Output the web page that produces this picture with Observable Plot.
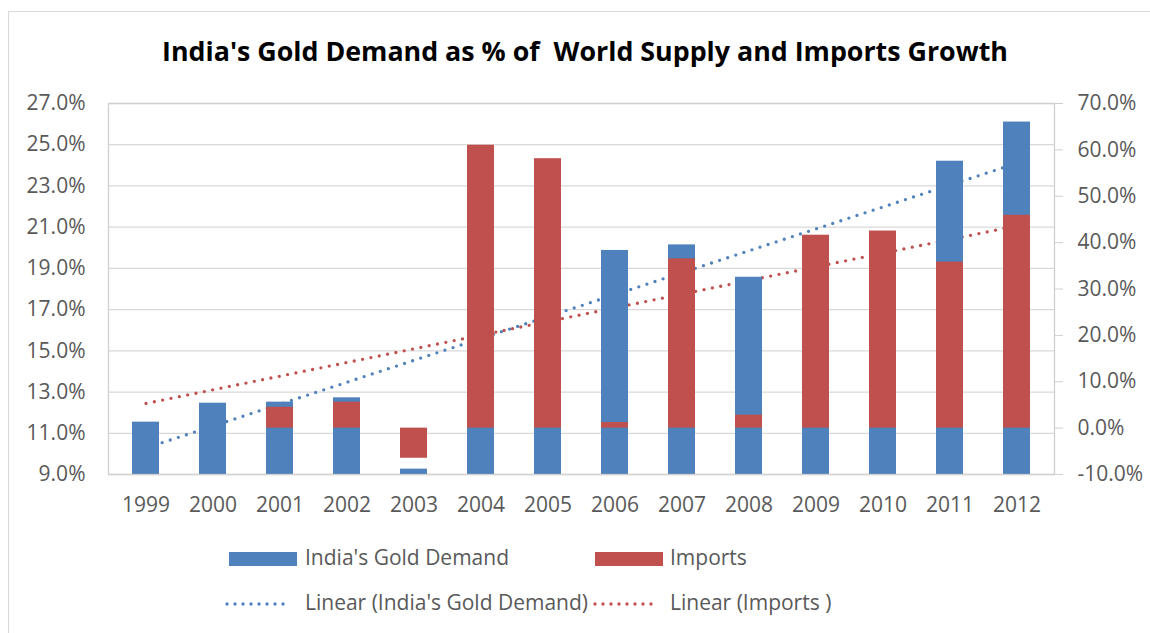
<!DOCTYPE html>
<html>
<head>
<meta charset="utf-8">
<script src="https://cdn.jsdelivr.net/npm/d3@7"></script>
<script src="https://cdn.jsdelivr.net/npm/@observablehq/plot@0.6"></script>
<style>
  html, body { margin: 0; padding: 0; background: #fff; }
  body { width: 1150px; height: 633px; position: relative; overflow: hidden; font-family: "Open Sans", sans-serif; }
  #frame { position: absolute; left: 8px; top: 11px; width: 1200px; height: 700px; border: 1px solid #d9d9d9; box-sizing: border-box; }
  #title { position: absolute; left: 0; width: 1170px; top: 38px; text-align: center; font-size: 26.8px; line-height: 26.8px; font-weight: 700; color: #000; white-space: pre; }
  #chart { position: absolute; left: 0; top: 80px; }
  .lg { position: absolute; font-size: 21px; line-height: 21px; color: #595959; white-space: pre; }
  .sw { position: absolute; }
</style>
</head>
<body>
<div id="frame"></div>
<div id="title"></div>
<div id="chart"></div>
<div id="legend"></div>
<script>
// ---- data ----
const years = ["1999","2000","2001","2002","2003","2004","2005","2006","2007","2008","2009","2010","2011","2012"];
const demand = [11.54, 12.46, 12.51, 12.72, 9.26, 16.9, 18.2, 19.87, 20.14, 18.57, 17.9, 20.4, 24.2, 26.1]; // % of world supply (left axis)
const imports = [null, null, 4.5, 5.6, -6.5, 61.0, 58.1, 1.2, 36.5, 2.8, 41.6, 42.5, 35.8, 45.9];      // growth % (right axis)
const leftTicks = [9, 11, 13, 15, 17, 19, 21, 23, 25, 27];
const rightTicks = [-10, 0, 10, 20, 30, 40, 50, 60, 70];
const titleText = "India's Gold Demand as % of  World Supply and Imports Growth";
const seriesNames = ["India's Gold Demand", "Imports"];
const trendNames = ["Linear (India's Gold Demand)", "Linear (Imports )"];
const colors = ["#4F81BD", "#C0504D"];

// ---- dual axis mapping ----
const L0 = 9, L1 = 27, R0 = -10, R1 = 70;
const toLeft = r => L0 + (r - R0) * (L1 - L0) / (R1 - R0);
const toRight = l => R0 + (l - L0) * (R1 - R0) / (L1 - L0);

const rows = years.map((y, i) => ({year: y, demand: demand[i], imports: imports[i]}));

function fit(vals) {
  const pts = vals.map((v, i) => [i + 1, v]).filter(p => p[1] != null);
  const mx = d3.mean(pts, p => p[0]), my = d3.mean(pts, p => p[1]);
  const b = d3.sum(pts, p => (p[0] - mx) * (p[1] - my)) / d3.sum(pts, p => (p[0] - mx) ** 2);
  const a = my - b * mx;
  return years.map((y, i) => ({year: y, v: a + b * (i + 1)}));
}
const trendDemand = fit(demand);
const trendImports = fit(imports).map(d => ({year: d.year, v: toLeft(d.v)}));

document.getElementById("title").textContent = titleText;

const dots = {strokeWidth: 3.3, strokeDasharray: "0 8.5", strokeLinecap: "round"};

const chart = Plot.plot({
  width: 1150,
  height: 450,
  marginLeft: 108,
  marginRight: 96,
  marginTop: 23,
  marginBottom: 56,
  style: {fontFamily: "'Open Sans', sans-serif", fontSize: "21px", color: "#595959", background: "transparent", overflow: "visible"},
  x: {domain: years, paddingInner: 0.6, paddingOuter: 0.3, axis: null, label: null},
  y: {domain: [L0, L1], axis: null, label: null},
  marks: [
    Plot.gridY(leftTicks, {stroke: "#d9d9d9", strokeOpacity: 1, strokeWidth: 1.3}),
    Plot.line(trendDemand, {x: "year", y: "v", stroke: colors[0], ...dots}),
    Plot.line(trendImports, {x: "year", y: "v", stroke: colors[1], ...dots}),
    Plot.barY(rows, {x: "year", y1: () => L0, y2: "demand", fill: colors[0]}),
    Plot.barY(rows.filter(d => d.imports != null), {x: "year", y1: () => toLeft(0), y2: d => toLeft(d.imports), fill: colors[1]}),
    Plot.frame({stroke: "#d0d0d0", strokeWidth: 1.3}),
    Plot.axisY(leftTicks, {anchor: "left", label: null, tickSize: 0, tickPadding: 23, tickFormat: d => d.toFixed(1) + "%", fill: "#595959"}),
    Plot.axisY(rightTicks.map(toLeft), {anchor: "right", label: null, tickSize: 8, tickPadding: 15, textAnchor: "start", stroke: "#d0d0d0", fill: "#595959",
      tickFormat: d => (Math.round(toRight(d) * 10) / 10).toFixed(1) + "%"}),
    Plot.axisX(years, {anchor: "bottom", label: null, tickSize: 0, tickPadding: 23, fill: "#595959"})
  ]
});
document.getElementById("chart").appendChild(chart);

// ---- legend ----
const legend = document.getElementById("legend");
function addText(txt, left, baseline) {
  const d = document.createElement("div");
  d.className = "lg";
  d.style.left = left + "px";
  d.style.top = (baseline - 0.888 * 21) + "px";
  d.textContent = txt;
  legend.appendChild(d);
}
function addSwatch(color, left, top) {
  const d = document.createElement("div");
  d.className = "sw";
  d.style.left = left + "px"; d.style.top = top + "px";
  d.style.width = "68px"; d.style.height = "14px";
  d.style.background = color;
  legend.appendChild(d);
}
function addDots(color, left, cy) {
  const ns = "http://www.w3.org/2000/svg";
  const s = document.createElementNS(ns, "svg");
  s.setAttribute("width", 80); s.setAttribute("height", 10);
  s.style.position = "absolute"; s.style.left = left + "px"; s.style.top = (cy - 5) + "px";
  const l = document.createElementNS(ns, "line");
  l.setAttribute("x1", 2); l.setAttribute("x2", 66); l.setAttribute("y1", 5); l.setAttribute("y2", 5);
  l.setAttribute("stroke", color); l.setAttribute("stroke-width", 3.3);
  l.setAttribute("stroke-dasharray", "0 8"); l.setAttribute("stroke-linecap", "round");
  s.appendChild(l);
  legend.appendChild(s);
}
addSwatch(colors[0], 229, 552);
addText(seriesNames[0], 305, 566);
addSwatch(colors[1], 595, 552);
addText(seriesNames[1], 670, 566);
addDots(colors[0], 225, 604);
addText(trendNames[0], 305, 611);
addDots(colors[1], 593, 604);
addText(trendNames[1], 670, 611);
</script>
</body>
</html>
